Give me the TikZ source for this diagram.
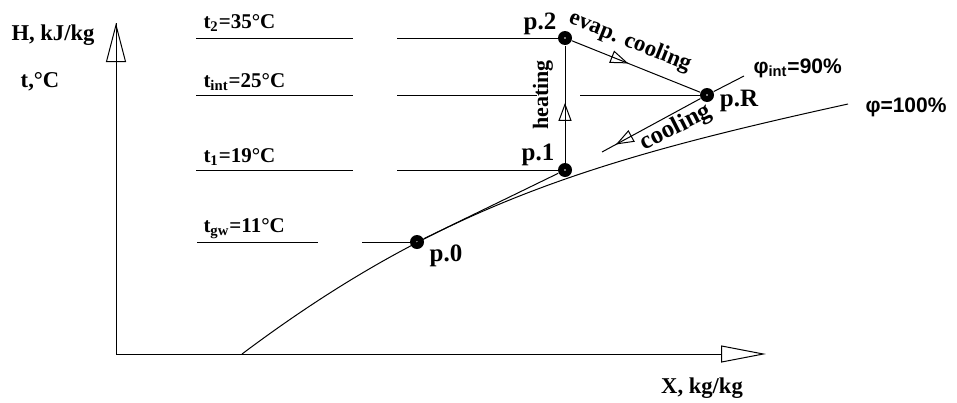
\documentclass[tikz,border=0pt]{standalone}
\usepackage{fontspec}
\setmainfont{Liberation Serif}
\setsansfont{Liberation Sans}
\usepackage{tikz}
\usetikzlibrary{arrows.meta,decorations.markings}

\tikzset{
    thinline/.style={line width=0.5pt},
    statept/.style={circle, fill=black, minimum size=7pt, inner sep=0pt,
        path picture={\fill[white] (path picture bounding box.center) circle (0.45pt);}},
    midarrow/.style={postaction={decorate, decoration={markings,
        mark=at position #1 with {\arrow{Triangle[open, length=9pt, width=6.5pt, line width=0.5pt]}}}}},
    axislbl/.style={inner sep=1pt, font=\bfseries\fontsize{11.3}{13}\selectfont},
    templbl/.style={anchor=base west, inner sep=0pt, font=\bfseries\fontsize{10.5}{12}\selectfont},
    philbl/.style={anchor=west, inner sep=1pt, font=\sffamily\bfseries\fontsize{10.5}{12}\selectfont},
    ptlbl/.style={inner sep=1pt, font=\bfseries\fontsize{12.5}{14}\selectfont},
    proclbl/.style={inner sep=1pt, font=\bfseries\fontsize{#1}{13}\selectfont}
}

\begin{document}
\begin{tikzpicture}[x=0.5pt, y=-0.5pt, thinline]
    \useasboundingbox (0,0) rectangle (957,402);

    % Axes
    \coordinate (O) at (116,354);
    \coordinate (ytip) at (116,23);
    \coordinate (xtip) at (766,354);
    \draw (O) -- (ytip);
    \draw[-{Triangle[open, length=19.5pt, width=10pt, line width=0.5pt]}] (O) -- (ytip);
    \draw[-{Triangle[open, length=22.5pt, width=8.5pt, line width=0.5pt]}] (O) -- (xtip);
    \node[axislbl] (hlbl) at (53,35) {H, kJ/kg};
    \node[axislbl] (tlbl) at (40,82) {t,°C};
    \node[axislbl] (xlbl) at (702,388) {X, kg/kg};

    % State points
    \node[statept] (p0) at (417,242) {};
    \node[statept] (p1) at (565,170) {};
    \node[statept] (p2) at (565,38) {};
    \node[statept] (pR) at (707,95) {};
    \node[ptlbl] (p0lbl) at (446,256) {p.0};
    \node[ptlbl] (p1lbl) at (538,155) {p.1};
    \node[ptlbl] (p2lbl) at (540,24) {p.2};
    \node[ptlbl] (pRlbl) at (739,101) {p.R};

    % Isotherms
    \foreach \y/\xa/\xb in {38/196/353, 95/196/353, 170/196/353, 242/197/318}
        \draw (\xa,\y) -- (\xb,\y);
    \coordinate (i2) at (397,38);
    \coordinate (i1) at (397,170);
    \coordinate (igw) at (362,242);
    \coordinate (iR) at (580,95);
    \draw (i2) -- (p2);
    \draw (i1) -- (p1);
    \draw (igw) -- (p0);
    \draw (397,95) -- (537,95);
    \draw (iR) -- (pR);
    \node[templbl] (t2lbl) at (203,28) {t\textsubscript{2}=35°C};
    \node[templbl] (tintlbl) at (203,87) {t\textsubscript{int}=25°C};
    \node[templbl] (t1lbl) at (203,162) {t\textsubscript{1}=19°C};
    \node[templbl] (tgwlbl) at (203,232) {t\textsubscript{gw}=11°C};

    % Saturation line and phi_int line
    \draw (242,354) .. controls (442,204) and (598,159) .. (848,104);
    \node[philbl] (phi100) at (863,107) {φ=100\%};
    \coordinate (phiend) at (744,76);
    \coordinate (cend) at (602,152);
    \draw (pR) -- (phiend);
    \node[philbl] (phiint) at (751,68) {φ\textsubscript{int}=90\%};

    % Processes
    \draw (p0) -- (p1);
    \draw[midarrow=0.51] (p1) -- (p2);
    \draw[midarrow=0.44] (p2) -- (pR);
    \draw[midarrow=0.86] (pR) -- (cend);
    \node[proclbl=11, rotate=90] (heatlbl) at (543,95) {heating};
    \node[proclbl=11.5, rotate=-21.9] (evaplbl) at (630,42) {evap. cooling};
    \node[proclbl=12.5, rotate=27] (coollbl) at (676,128) {cooling};
\end{tikzpicture}
\end{document}
